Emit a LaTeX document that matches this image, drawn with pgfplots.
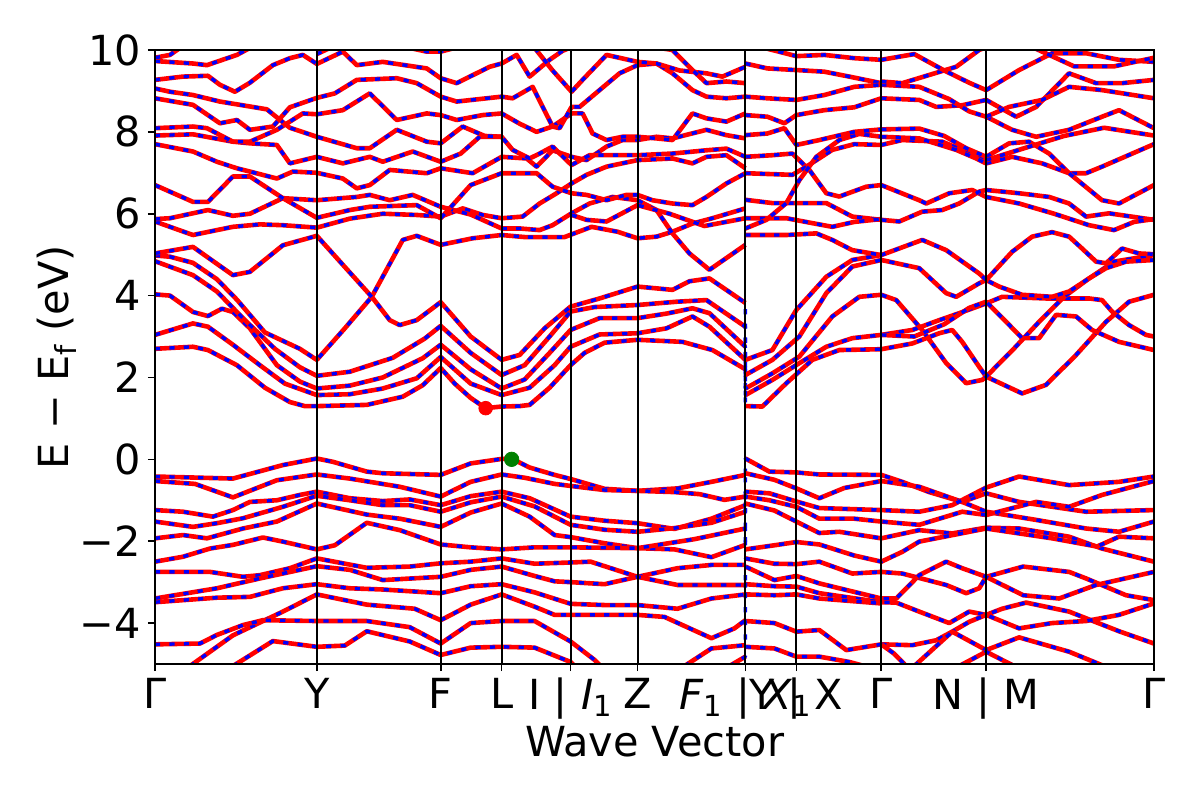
\documentclass[border=0pt]{standalone}
\usepackage{fontspec}
\setmainfont{DejaVu Sans}
\usepackage{pgfplots}
\pgfplotsset{compat=1.18}
\usetikzlibrary{calc}
\definecolor{mplgreen}{RGB}{0,128,0}
\pgfplotsset{
 bandred/.style={red, line width=2.3bp, line join=round},
 bandblue/.style={blue, line width=1.7bp, dash pattern=on 2.6bp off 4.6bp, line join=round},
}
\newcommand{\band}[1]{%
 \addplot[bandred] coordinates {#1};
 \addplot[bandblue] coordinates {#1};}
% band with a jump at the F1|X1 break: red drawn in two pieces, blue joined
\newcommand{\bandj}[2]{%
 \addplot[bandred] coordinates {#1};
 \addplot[bandred] coordinates {#2};
 \addplot[bandblue] coordinates {#1 #2};}
\begin{document}
\begin{tikzpicture}
\begin{axis}[
 scale only axis, width=499.5bp, height=307bp,
 xmin=0, xmax=1000, ymin=-5, ymax=10,
 xtick={0,162,286,347,416,483,591,642,727,832,1000},
 xticklabels={Γ,Y,F,L,{I | \textit{I}\textsubscript{1}},Z,{\textit{F}\textsubscript{1} | \textit{X}\textsubscript{1}},{Y | X},Γ,{N | M},Γ},
 ytick={-4,-2,0,2,4,6,8,10},
 yticklabels={−4,−2,0,2,4,6,8,10},
 xtick pos=lower, ytick pos=left,
 tick align=outside, major tick length=3.5bp,
 xmajorgrids, major grid style={black, line width=1bp},
 axis on top,
 axis line style={line width=0.8bp},
 tick style={black, line width=0.8bp},
 ticklabel style={font=\fontsize{20.8}{24}\selectfont},
 label style={font=\fontsize{20.8}{24}\selectfont},
 xlabel={Wave Vector}, ylabel={E − E\textsubscript{f} (eV)},
 xlabel style={at={(axis description cs:0.5,-0.127)}, anchor=center},
 ylabel style={at={(axis description cs:-0.098,0.5)}, anchor=center},
 clip=true,
]
% band edge markers
\addplot[only marks, mark=*, mark size=3.4bp, red, mark options={fill=red, draw=red}] coordinates {(331,1.25)};
\addplot[only marks, mark=*, mark size=3.6bp, mplgreen, mark options={fill=mplgreen, draw=mplgreen}] coordinates {(357,0.0)};

% ---------------- valence bands ----------------
\bandj{(0,-0.42) (78,-0.47) (128,-0.14) (162,0.02) (178,-0.06) (212,-0.30) (228,-0.34) (286,-0.38) (316,-0.1) (347,0.01) (357,0.02) (375,-0.2) (400,-0.38) (416,-0.48) (450,-0.72) (483,-0.77) (523,-0.71) (557,-0.55) (591,-0.38)}{(591,0.02) (615,-0.3) (642,-0.32) (665,-0.37) (727,-0.38) (748,-0.55) (775,-0.8) (808,-1.04) (832,-1.28) (882,-1.48) (932,-1.69) (965,-1.77) (1000,-1.52)}
\bandj{(0,-0.53) (40,-0.6) (78,-0.93) (122,-0.51) (162,-0.37) (195,-0.47) (245,-0.67) (286,-0.91) (316,-0.55) (347,-0.37) (370,-0.45) (400,-0.6) (416,-0.65) (450,-0.75) (483,-0.77) (520,-0.8) (545,-0.85) (570,-0.99) (591,-0.91)}{(591,-0.34) (620,-0.5) (642,-0.71) (665,-0.95) (690,-0.7) (727,-0.53) (765,-0.67) (808,-1.04) (832,-0.83) (865,-1.04) (932,-1.28) (1000,-1.24)}
\bandj{(0,-1.24) (28,-1.28) (58,-1.40) (78,-1.24) (95,-1.04) (122,-1.0) (145,-0.87) (162,-0.79) (195,-0.95) (228,-1.02) (255,-0.98) (286,-1.12) (316,-0.9) (347,-0.79) (375,-0.95) (416,-1.4) (450,-1.5) (483,-1.56) (520,-1.7) (557,-1.45) (591,-1.12)}{(591,-0.79) (615,-0.83) (642,-1.03) (665,-1.19) (727,-1.24) (765,-1.28) (798,-1.12) (832,-0.69) (865,-0.42) (915,-0.63) (965,-0.55) (1000,-0.42)}
\bandj{(0,-1.52) (38,-1.65) (62,-1.56) (88,-1.44) (128,-1.16) (162,-0.89) (195,-1.0) (228,-1.12) (255,-1.12) (286,-1.28) (316,-1.05) (347,-0.91) (380,-1.15) (416,-1.6) (450,-1.72) (483,-1.77) (520,-1.68) (557,-1.55) (591,-1.28)}{(591,-0.91) (615,-1.0) (642,-1.16) (665,-1.45) (700,-1.45) (727,-1.52) (765,-1.6) (808,-1.28) (832,-1.36) (882,-1.04) (915,-1.16) (948,-0.87) (1000,-0.53)}
\bandj{(0,-1.93) (28,-1.85) (52,-1.93) (88,-1.69) (122,-1.52) (162,-1.08) (212,-1.35) (245,-1.45) (286,-1.65) (316,-1.3) (347,-1.08) (375,-1.4) (400,-1.85) (416,-1.9) (450,-2.05) (483,-2.17) (520,-2.2) (557,-2.39) (591,-2.09)}{(591,-1.08) (620,-1.25) (642,-1.52) (665,-1.8) (685,-1.77) (727,-1.93) (765,-1.73) (798,-1.81) (832,-1.67) (865,-1.69) (915,-1.89) (948,-2.18) (1000,-2.50)}
\bandj{(0,-2.50) (28,-2.38) (55,-2.18) (78,-2.09) (108,-1.91) (128,-2.01) (162,-2.2) (180,-2.1) (212,-1.55) (245,-1.73) (286,-2.08) (316,-2.15) (347,-2.2) (380,-2.15) (416,-2.15) (483,-2.17) (540,-1.95) (591,-1.69)}{(591,-2.2) (620,-2.1) (642,-2.02) (665,-2.08) (700,-2.35) (727,-2.5) (748,-2.26) (765,-2.01) (832,-1.69) (898,-1.93) (943,-2.13) (965,-1.89) (1000,-1.93)}
\bandj{(0,-2.75) (55,-2.75) (88,-2.87) (105,-2.83) (135,-2.66) (162,-2.42) (212,-2.65) (255,-2.62) (286,-2.54) (316,-2.5) (347,-2.42) (380,-2.55) (416,-2.52) (436,-2.5) (483,-2.87) (523,-2.66) (557,-2.58) (591,-2.58)}{(591,-2.42) (620,-2.55) (642,-2.56) (665,-2.5) (698,-2.79) (727,-2.75) (748,-2.79) (792,-3.07) (812,-3.27) (825,-3.15) (832,-2.87) (869,-2.62) (915,-2.75) (932,-2.91) (972,-3.32) (1000,-3.44)}
\bandj{(0,-3.40) (62,-3.15) (105,-2.91) (162,-2.61) (195,-2.7) (228,-2.95) (286,-2.87) (316,-2.7) (347,-2.62) (380,-2.85) (400,-2.98) (416,-3.0) (450,-3.05) (483,-2.87) (523,-3.07) (591,-3.07)}{(591,-2.62) (620,-2.95) (642,-2.85) (665,-3.03) (685,-3.15) (727,-3.40) (742,-3.40) (765,-2.83) (792,-2.5) (808,-2.66) (832,-2.87) (869,-3.32) (905,-3.40) (942,-3.07) (1000,-2.75)}
\bandj{(0,-3.49) (62,-3.38) (95,-3.36) (128,-3.15) (162,-3.05) (195,-3.15) (228,-3.18) (286,-3.27) (316,-3.1) (347,-3.05) (380,-3.25) (416,-3.53) (450,-3.56) (483,-3.56) (523,-3.65) (557,-3.4) (591,-3.3)}{(591,-3.05) (620,-3.1) (642,-3.11) (665,-3.27) (727,-3.49) (742,-3.5) (765,-3.72) (795,-4.0) (815,-3.72) (832,-3.80) (848,-3.65) (872,-3.5) (915,-3.72) (965,-4.2) (1000,-4.5)}
\bandj{(35,-5.05) (78,-4.3) (128,-3.72) (162,-3.30) (212,-3.55) (260,-3.65) (286,-3.93) (316,-3.55) (347,-3.30) (380,-3.6) (400,-3.8) (416,-3.8) (483,-3.80) (510,-3.85) (557,-4.37) (580,-4.13) (591,-3.93)}{(591,-3.30) (620,-3.32) (642,-3.30) (665,-3.4) (727,-3.52)}
\band{(727,-4.52) (758,-4.54) (782,-4.42) (798,-4.21) (815,-3.97) (832,-3.80) (865,-4.13) (898,-4.0) (932,-3.95) (965,-3.8) (1000,-3.52)}
\band{(0,-4.52) (45,-4.50) (62,-4.29) (88,-4.05) (108,-3.93) (162,-3.95) (212,-3.95) (255,-4.1) (286,-4.50) (316,-4.0) (347,-3.95) (380,-3.95) (416,-4.45) (440,-4.9) (446,-5.05)}
\bandj{(530,-5.05) (557,-4.62) (591,-4.54)}{(591,-3.95) (620,-4.0) (642,-4.21) (665,-4.17) (692,-4.66) (727,-4.52) (740,-4.75) (752,-5.05)}
\band{(760,-5.05) (798,-4.21) (832,-4.66) (865,-4.35) (915,-4.70) (950,-5.05)}
\band{(78,-5.05) (118,-4.44) (162,-4.58) (190,-4.55) (212,-4.2) (255,-4.45) (286,-4.78) (316,-4.6) (347,-4.58) (380,-4.6) (416,-4.95) (420,-5.05)}
\bandj{(575,-5.05) (591,-4.82)}{(591,-4.58) (620,-4.62) (642,-4.82) (665,-4.82) (695,-4.95) (710,-5.05)}
\band{(805,-5.05) (832,-4.70) (860,-5.05)}

% ---------------- lower conduction bands ----------------
\bandj{(0,2.70) (38,2.75) (53,2.67) (82,2.3) (110,1.75) (135,1.40) (150,1.30) (162,1.30) (212,1.33) (248,1.53) (268,1.81) (286,2.23) (300,1.85) (316,1.5) (331,1.25) (347,1.29) (365,1.30) (375,1.33) (395,1.75) (416,2.3) (430,2.6) (450,2.85) (483,2.92) (528,2.87) (558,2.67) (591,2.2)}{(591,1.30) (608,1.29) (632,1.86) (658,2.43) (685,2.67) (727,2.69) (758,2.83) (785,3.08) (798,3.16) (808,2.87) (825,2.26) (832,2.02) (868,1.61) (892,1.82) (922,2.55) (952,3.36) (975,3.85) (1000,4.02)}
\bandj{(0,3.04) (38,3.32) (53,3.24) (78,2.8) (105,2.3) (130,1.85) (162,1.57) (195,1.59) (228,1.73) (262,1.98) (286,2.5) (316,1.85) (347,1.57) (375,1.75) (400,2.3) (416,2.75) (445,3.05) (483,3.08) (512,3.2) (538,3.49) (555,3.24) (591,2.43)}{(591,1.57) (618,1.94) (645,2.35) (672,2.75) (698,2.96) (727,3.04) (758,3.16) (785,3.4) (805,3.57) (832,3.81) (848,3.97) (892,3.93) (935,3.93) (948,3.89) (958,3.61) (975,3.28) (992,3.04) (1000,3.0)}
\bandj{(0,4.03) (15,4.0) (38,3.6) (53,3.5) (67,3.68) (78,3.6) (95,3.2) (122,2.3) (145,1.9) (162,1.73) (195,1.8) (228,2.0) (268,2.47) (286,2.8) (316,2.2) (347,1.73) (370,1.95) (395,2.6) (416,3.16) (445,3.45) (483,3.45) (512,3.56) (538,3.69) (555,3.57) (591,2.75)}{(591,1.73) (618,2.1) (645,2.51) (678,3.49) (705,3.97) (727,4.02) (742,3.89) (768,3.16) (792,2.35) (812,1.86) (828,1.94) (832,2.02) (860,2.71) (885,3.36) (910,3.97) (935,4.42) (960,4.83) (1000,4.99)}
\bandj{(0,4.84) (38,4.5) (62,4.1) (90,3.4) (120,2.7) (145,2.25) (162,2.04) (195,2.14) (238,2.48) (270,2.95) (286,3.26) (316,2.6) (347,2.06) (370,2.3) (395,3.0) (416,3.61) (440,3.72) (483,3.77) (522,3.85) (552,3.89) (591,3.24)}{(591,2.06) (618,2.43) (645,3.0) (672,4.06) (698,4.71) (727,4.87) (765,4.67) (792,4.06) (802,3.97) (825,4.3) (832,4.38) (845,4.22) (868,4.02) (898,3.97) (915,4.10) (935,4.42) (952,4.67) (972,4.83) (1000,4.87)}
\band{(0,4.98) (15,4.95) (38,4.8) (62,4.4) (82,3.9) (110,3.1) (145,2.7) (162,2.43) (190,3.2) (217,3.97) (248,5.36) (262,5.46) (286,5.24) (318,5.4) (347,5.48) (370,5.43) (410,5.43) (437,5.68) (463,5.56) (483,5.4) (502,5.44) (518,5.56) (538,5.76) (558,5.89) (591,6.13)}
\bandj{(0,5.03) (38,5.19) (78,4.5) (95,4.58) (128,5.23) (162,5.46) (190,4.7) (217,3.97) (235,3.4) (245,3.28) (262,3.4) (286,3.84) (316,3.0) (347,2.43) (365,2.55) (390,3.2) (416,3.73) (445,3.93) (483,4.22) (518,4.14) (535,4.35) (555,4.42) (591,3.82)}{(591,2.43) (618,2.67) (642,3.65) (672,4.46) (698,4.87) (727,4.99) (768,5.36) (792,5.11) (825,4.54) (832,4.38) (858,5.07) (878,5.44) (898,5.55) (915,5.44) (928,5.15) (942,4.83) (952,4.79) (968,5.15) (985,5.03) (1000,5.01)}
\band{(727,3.04) (760,3.0) (790,3.3) (815,3.7) (832,3.85) (852,3.36) (868,2.96) (885,2.96) (902,3.53) (922,3.49) (938,3.16) (965,2.87) (1000,2.67)}

% ---------------- upper conduction bands ----------------
% Gamma -> Y -> F -> L -> I -> Z -> F1
\band{(0,5.81) (38,5.48) (78,5.68) (105,5.74) (128,5.72) (162,5.66) (195,5.88) (228,6.0) (262,5.97) (286,5.93) (308,6.13) (328,5.97) (347,5.89) (368,5.93) (385,6.25) (402,6.5) (417,6.74) (432,6.95) (452,7.15) (483,7.31) (518,7.35) (538,7.23) (552,7.39) (572,7.43) (591,7.11)}
\band{(0,5.87) (15,5.89) (53,6.09) (78,5.95) (95,6.0) (128,6.38) (162,6.33) (202,6.41) (215,6.46) (235,6.33) (258,6.46) (286,6.17) (316,5.98) (347,5.64) (365,5.64) (385,5.6) (398,5.72) (417,6.01) (435,6.25) (458,6.41) (483,6.33) (502,6.09) (518,5.52) (535,5.03) (555,4.63) (591,5.24)}
\band{(0,6.70) (38,6.29) (53,6.29) (78,6.91) (95,6.91) (128,6.38) (162,5.9) (195,6.09) (215,6.17) (262,6.21) (286,5.89) (316,6.7) (347,6.99) (382,6.99) (398,6.66) (417,6.5) (432,6.46) (452,6.33) (472,6.46) (483,6.46) (498,6.33) (518,6.25) (538,6.21) (552,6.41) (572,6.74) (591,6.99)}
\band{(0,7.70) (38,7.52) (62,7.27) (82,7.11) (95,7.03) (122,6.86) (138,7.03) (162,7.0) (188,6.86) (202,6.62) (215,6.7) (235,7.07) (272,6.99) (286,7.11) (318,6.99) (347,7.39) (372,7.35) (382,7.15) (398,7.55) (417,7.39) (432,7.31) (452,7.64) (468,7.8) (483,7.8) (502,7.88) (518,7.84) (552,8.05) (572,7.92) (591,7.84)}
\band{(0,7.91) (38,7.94) (78,7.76) (95,7.72) (122,7.68) (135,7.23) (162,7.39) (188,7.23) (215,7.39) (228,7.27) (258,7.52) (286,7.27) (306,7.47) (325,7.88) (347,7.88) (358,7.56) (375,7.35) (385,7.47) (398,7.64) (417,7.19) (435,7.43) (458,7.43) (483,7.43) (518,7.47) (552,7.55) (572,7.59) (591,7.39)}
\band{(0,8.09) (38,8.13) (52,8.09) (78,7.76) (95,7.76) (122,8.05) (148,8.45) (162,8.43) (188,8.53) (215,8.94) (242,8.29) (272,8.45) (286,8.41) (302,8.29) (328,8.41) (347,8.45) (365,8.2) (382,8.0) (398,8.13) (417,8.45) (428,8.45) (438,7.96) (452,7.8) (468,7.88) (483,7.88) (502,7.84) (518,7.8) (538,8.45) (552,8.33) (572,8.25) (591,8.45)}
\band{(0,9.06) (15,8.98) (38,8.9) (65,8.74) (95,8.62) (112,8.55) (135,8.1) (162,7.88) (202,7.6) (215,7.6) (242,8.05) (272,7.76) (286,7.72) (308,8.13) (330,7.9) (347,7.88)}
\band{(0,8.82) (38,8.66) (65,8.21) (82,8.29) (95,8.05) (118,8.13) (135,8.6) (162,8.83) (180,8.94) (202,9.27) (242,9.31) (262,9.19) (286,8.86) (302,8.74) (347,8.86) (358,8.82) (378,9.1) (398,8.13) (405,8.09) (417,8.61) (425,8.61) (445,9.02) (465,9.43) (483,9.63) (502,9.67) (518,9.43) (538,9.02) (552,8.86) (572,8.82) (591,8.86)}
\band{(0,9.27) (28,9.35) (53,9.37) (65,9.15) (80,8.98) (95,9.2) (118,9.63) (135,9.8) (148,9.88) (162,9.66) (188,9.96) (202,9.63) (228,9.71) (272,9.55) (286,9.31) (302,9.19) (335,9.59) (347,9.67) (362,9.88) (375,9.35) (395,9.76) (408,9.98) (415,10.05)}
\band{(380,10.05) (398,9.5) (417,8.98) (428,9.27) (452,9.88) (483,9.71) (502,9.67) (525,9.5) (552,9.43) (568,9.35) (591,9.59)}
\band{(0,9.73) (38,9.67) (52,9.63) (82,9.88) (95,10.05)}
\band{(0,9.81) (15,9.88) (25,10.05)}
\band{(162,9.9) (175,10.05)}
\band{(255,10.05) (272,9.96) (286,9.96) (300,10.05)}
\band{(417,5.97) (432,5.85) (452,5.81) (483,6.21) (515,6.0) (550,5.7) (591,5.89)}
\band{(505,10.05) (518,10.0) (538,9.51) (552,9.19) (572,9.23) (591,9.19)}
% X1 -> Y|X -> Gamma
\band{(591,7.39) (618,7.43) (638,7.47) (655,7.07) (672,6.5) (685,6.42) (712,6.66) (727,6.7)}
\band{(591,6.99) (638,6.95) (652,7.15) (678,7.56) (700,7.7) (727,7.68)}
\band{(591,6.34) (618,6.26) (645,6.26) (672,6.26) (698,5.93) (727,5.85)}
\band{(591,5.89) (632,5.89) (658,5.77) (678,5.68) (700,5.8) (727,5.87)}
\band{(591,5.64) (612,5.85) (632,6.26) (645,6.82) (662,7.39) (685,7.8) (705,7.95) (727,7.88)}
\band{(591,5.48) (632,5.48) (662,5.52) (678,5.36) (698,5.11) (727,4.99)}
\band{(591,9.67) (613,9.55) (642,9.51) (670,9.47) (695,9.35) (727,9.19)}
\band{(591,8.86) (613,8.82) (642,8.78) (670,8.9) (700,9.1) (727,9.15)}
\band{(591,8.41) (613,8.37) (630,8.21) (642,8.41) (670,8.53) (700,8.6) (727,8.82)}
\band{(591,7.92) (613,7.96) (630,8.09) (642,7.68) (665,7.8) (700,8.0) (727,8.06)}
\band{(610,10.05) (642,9.85) (670,9.88) (700,9.8) (727,9.76)}
% Gamma -> N
\band{(727,6.70) (765,6.33) (772,6.25) (795,6.5) (818,6.58) (832,6.41)}
\band{(727,5.85) (745,5.81) (768,6.05) (788,6.09) (805,6.25) (825,6.54) (832,6.58)}
\band{(727,7.68) (748,7.8) (788,7.76) (808,7.56) (832,7.31)}
\band{(727,7.88) (765,7.84) (802,7.56) (822,7.35) (832,7.23)}
\band{(727,8.06) (765,8.08) (790,7.9) (812,7.6) (832,7.39)}
\band{(727,8.82) (765,8.78) (782,8.61) (808,8.65) (832,8.78)}
\band{(727,9.15) (765,9.1) (795,8.8) (815,8.5) (832,8.37)}
\band{(727,9.23) (748,9.19) (802,9.59) (825,10.0) (830,10.05)}
\band{(727,9.76) (760,9.9) (790,9.5) (815,9.2) (832,9.02)}
% M -> Gamma
\band{(832,9.02) (865,9.51) (898,9.92) (932,9.92) (965,9.76) (1000,9.71)}
\band{(832,8.78) (862,8.37) (882,8.61) (915,9.43) (942,9.19) (968,9.19) (1000,9.27)}
\band{(832,8.37) (858,8.05) (882,7.88) (915,8.05) (948,8.37) (965,8.53) (1000,8.09)}
\band{(832,8.37) (855,8.61) (888,8.78) (915,9.1) (948,9.02) (1000,8.82)}
\band{(832,7.39) (855,7.72) (875,7.76) (895,7.47) (915,6.99) (932,6.99) (948,7.15) (1000,7.70)}
\band{(832,7.23) (858,7.39) (888,7.23) (915,6.99) (948,6.33) (965,6.25) (1000,6.70)}
\band{(832,6.58) (865,6.5) (895,6.41) (915,6.25) (932,5.93) (955,6.01) (1000,5.85)}
\band{(832,6.41) (865,6.25) (900,6.0) (935,5.72) (960,5.6) (980,5.8) (1000,5.87)}
\band{(832,7.31) (870,7.6) (910,7.9) (950,8.1) (1000,7.91)}
\band{(880,10.05) (920,9.6) (960,9.6) (1000,9.81)}
\end{axis}
\pgfresetboundingbox
\useasboundingbox ($(current axis.south west)+(-77.5bp,-68bp)$) rectangle ($(current axis.north east)+(23bp,25bp)$);
\end{tikzpicture}
\end{document}
